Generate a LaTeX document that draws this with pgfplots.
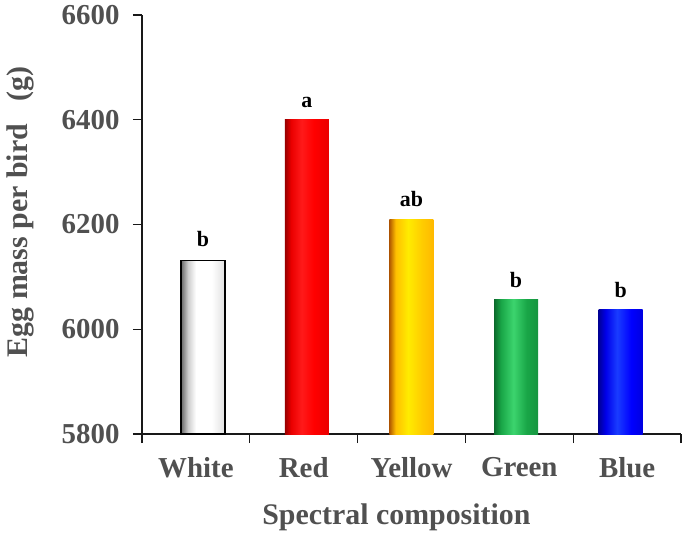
\documentclass[border=0pt]{standalone}
\usepackage{pgfplots}
\pgfplotsset{compat=1.18}
\usepackage{fontspec}
\setmainfont{Liberation Serif}

\definecolor{txtgray}{HTML}{505050}
\definecolor{gdark}{HTML}{0B6A2C}
\definecolor{gbase}{HTML}{19A647}
\definecolor{glight}{HTML}{3CD46E}

% cylinder-like horizontal shadings: dark left edge, highlight, base colour
\pgfdeclarehorizontalshading{whitebar}{100bp}{color(0bp)=(black!60); color(25bp)=(black!60);
  color(33bp)=(black!20); color(42bp)=(white); color(60bp)=(white); color(75bp)=(black!12); color(100bp)=(black!12)}
\pgfdeclarehorizontalshading{redbar}{100bp}{color(0bp)=(red!60!black); color(25bp)=(red!60!black);
  color(32bp)=(red!92!black); color(44bp)=(red!90!white); color(58bp)=(red); color(75bp)=(red!92!black); color(100bp)=(red!92!black)}
\pgfdeclarehorizontalshading{yellowbar}{100bp}{color(0bp)=(orange!70!black); color(25bp)=(orange!70!black);
  color(32bp)=(orange!50!yellow); color(46bp)=(yellow!85!orange); color(62bp)=(orange!40!yellow); color(75bp)=(orange!55!yellow); color(100bp)=(orange!55!yellow)}
\pgfdeclarehorizontalshading{greenbar}{100bp}{color(0bp)=(gdark); color(25bp)=(gdark);
  color(33bp)=(gbase); color(47bp)=(glight); color(62bp)=(gbase); color(75bp)=(gbase!90!black); color(100bp)=(gbase!90!black)}
\pgfdeclarehorizontalshading{bluebar}{100bp}{color(0bp)=(blue!60!black); color(25bp)=(blue!60!black);
  color(33bp)=(blue!92!black); color(46bp)=(blue!85!cyan!90!white); color(62bp)=(blue); color(75bp)=(blue!88!black); color(100bp)=(blue!88!black)}

\begin{document}
\begin{tikzpicture}
\useasboundingbox (-142bp,-101bp) rectangle (543bp,434bp);
\begin{axis}[
  at={(0,0)}, anchor=south west,
  scale only axis,
  width=539bp, height=419bp,
  xmin=-0.5, xmax=4.5,
  ymin=5800, ymax=6600,
  ytick={5800,6000,...,6600},
  xtick={-0.5,0.5,...,4.5},
  xticklabels={},
  extra x ticks={0,1,2,3,4},
  extra x tick labels={White,Red,Yellow,Green,Blue},
  extra x tick style={major tick length=0pt,
    xticklabel style={yshift=-20bp, font=\fontsize{29}{32}\selectfont\bfseries}},
  axis lines=left,
  axis line style={-, line width=1.3pt, black!90},
  tick style={line width=1.3pt, black!90},
  tick align=outside,
  major tick length=9bp,
  /pgf/number format/assume math mode=true,
  /pgf/number format/1000 sep={},
  ticklabel style={font=\fontsize{29}{32}\selectfont\bfseries, text=txtgray},
  yticklabel style={xshift=-10bp},
  xlabel={Spectral composition},
  ylabel={Egg mass per bird\ \ \ (g)},
  label style={font=\fontsize{30}{34}\selectfont\bfseries, text=txtgray},
  xlabel style={at={(axis description cs:0.472,-0.198)}, anchor=center},
  ylabel style={at={(axis description cs:-0.226,0.53)}, anchor=center, rotate=0},
  ybar, bar width=44bp,
  nodes near coords,
  point meta=explicit symbolic,
  every node near coord/.append style={font=\fontsize{22}{24}\selectfont\bfseries, text=black, yshift=9bp},
]
\addplot[bar shift=0pt, draw=black, line width=1.2pt, shade, shading=whitebar]
  coordinates {(0.065,6132) [b]};
\addplot[bar shift=0pt, draw=none, shade, shading=redbar]
  coordinates {(1.03,6400) [a]};
\addplot[bar shift=0pt, draw=none, shade, shading=yellowbar]
  coordinates {(2.0,6210) [ab]};
\addplot[bar shift=0pt, draw=none, shade, shading=greenbar]
  coordinates {(2.97,6056) [b]};
\addplot[bar shift=0pt, draw=none, shade, shading=bluebar]
  coordinates {(3.94,6037) [b]};
\end{axis}
\end{tikzpicture}
\end{document}
